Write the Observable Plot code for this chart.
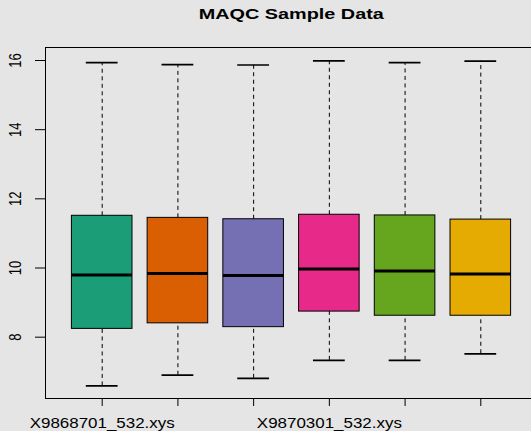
<!DOCTYPE html>
<html><head><meta charset="utf-8">
<script src="https://cdn.jsdelivr.net/npm/d3@7"></script>
<script src="https://cdn.jsdelivr.net/npm/@observablehq/plot@0.6"></script>
<style>html,body{margin:0;padding:0;background:#e5e5e5;overflow:hidden;}</style>
</head><body><div id="chart"></div>
<script>
const title = "MAQC Sample Data";
const samples = ["X9868701_532.xys","X9868901_532.xys","X9869001_532.xys","X9870301_532.xys","X9870401_532.xys","X9870601_532.xys"];
const lowerWhisker = [6.59, 6.90, 6.81, 7.33, 7.33, 7.52];
const lowerQuartile = [8.24, 8.40, 8.29, 8.74, 8.62, 8.62];
const medians = [9.80, 9.84, 9.78, 9.97, 9.91, 9.83];
const upperQuartile = [11.51, 11.45, 11.41, 11.54, 11.52, 11.40];
const upperWhisker = [15.94, 15.88, 15.87, 15.99, 15.94, 15.98];
const boxColors = ["#1B9E77","#D95F02","#7570B3","#E7298A","#66A61E","#E6AB02"];
const yTicks = [8, 10, 12, 14, 16];
const labelledSamples = ["X9868701_532.xys","X9870301_532.xys"];

const xDomain = [0.2512, 6.6696];
const yDomain = [6.227, 16.376];

const data = samples.map((name, k) => ({
  pos: k + 1, name,
  lo: lowerWhisker[k], q1: lowerQuartile[k], med: medians[k],
  q3: upperQuartile[k], hi: upperWhisker[k]
}));
const labelData = data.filter(d => labelledSamples.includes(d.name));

const bw = 0.4, sw = 0.21;
const plot = Plot.plot({
  width: 531, height: 431,
  marginLeft: 45, marginRight: 0, marginTop: 47, marginBottom: 33,
  style: {background: "#e5e5e5", fontFamily: "'Liberation Sans', Arial, sans-serif", color: "black"},
  x: {domain: xDomain, ticks: data.map(d => d.pos), tickSize: 8, tickFormat: () => "", label: null},
  y: {domain: yDomain, ticks: yTicks, tickSize: 10, tickFormat: () => "", label: null},
  color: {domain: samples, range: boxColors},
  marks: [
    Plot.ruleX(data, {x: "pos", y1: "q3", y2: "hi", stroke: "black", strokeDasharray: "4,3.5"}),
    Plot.ruleX(data, {x: "pos", y1: "lo", y2: "q1", stroke: "black", strokeDasharray: "4,3.5"}),
    Plot.ruleY(data, {y: "hi", x1: d => d.pos - sw, x2: d => d.pos + sw, stroke: "black", strokeWidth: 1.7}),
    Plot.ruleY(data, {y: "lo", x1: d => d.pos - sw, x2: d => d.pos + sw, stroke: "black", strokeWidth: 1.7}),
    Plot.rect(data, {x1: d => d.pos - bw, x2: d => d.pos + bw, y1: "q1", y2: "q3", fill: "name", stroke: "black", strokeWidth: 1}),
    Plot.ruleY(data, {y: "med", x1: d => d.pos - bw, x2: d => d.pos + bw, stroke: "black", strokeWidth: 3}),
    Plot.ruleY(yDomain, {stroke: "black"}),
    Plot.ruleX([xDomain[0]], {stroke: "black"}),
    Plot.text(yTicks, {x: xDomain[0], y: d => d, text: d => String(d), rotate: -90, dx: -29.7, fontSize: 13, fill: "black"}),
    Plot.text(labelData, {x: "pos", y: yDomain[0], text: "name", lineAnchor: "top", dy: 19.5, fontSize: 14, fill: "black"}),
    Plot.text([title], {frameAnchor: "top", lineAnchor: "top", dy: -39.7, dx: 2.8, fontSize: 15.4, fontWeight: "bold", fill: "black"})
  ]
});
document.getElementById("chart").appendChild(plot);

const groups = plot.querySelectorAll('g[aria-label="text"]');
if (groups.length >= 3) {
  groups[0].querySelectorAll("text").forEach(t => {
    const tr = t.getAttribute("transform") || "";
    t.setAttribute("transform", tr + " scale(1,1.3)");
  });
  groups[1].querySelectorAll("text").forEach(t => {
    t.setAttribute("textLength", 145);
    t.setAttribute("lengthAdjust", "spacingAndGlyphs");
  });
  groups[2].querySelectorAll("text").forEach(t => {
    t.setAttribute("textLength", 185);
    t.setAttribute("lengthAdjust", "spacingAndGlyphs");
  });
}
</script></body></html>
